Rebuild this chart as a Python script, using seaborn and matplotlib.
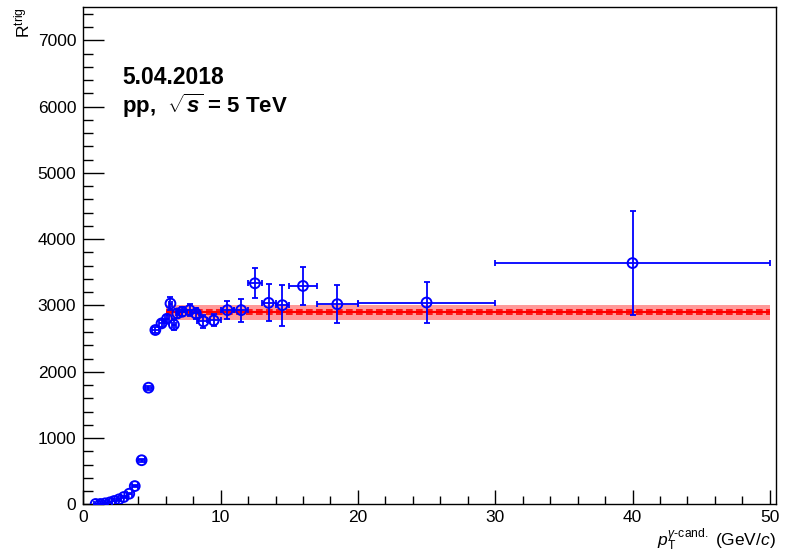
import numpy as np
import matplotlib
matplotlib.use('Agg')
import matplotlib.pyplot as plt
import seaborn as sns
from matplotlib.ticker import MultipleLocator

pt = [0.9, 1.25, 1.6, 1.95, 2.25, 2.6, 2.95, 3.35, 3.75, 4.25, 4.75,
      5.25, 5.7, 6.1, 6.35, 6.6, 6.85, 7.2, 7.75, 8.2, 8.75, 9.5,
      10.5, 11.5, 12.5, 13.5, 14.5, 16.0, 18.5, 25.0, 40.0]
r_trig = [5, 5, 15, 30, 50, 75, 110, 160, 275, 665, 1760,
          2630, 2730, 2800, 3030, 2710, 2880, 2905, 2930, 2880, 2760, 2775,
          2930, 2930, 3335, 3040, 3005, 3295, 3020, 3045, 3640]
pt_err = [0.15, 0.15, 0.15, 0.15, 0.15, 0.15, 0.2, 0.2, 0.2, 0.25, 0.25,
          0.25, 0.2, 0.12, 0.12, 0.12, 0.12, 0.25, 0.5, 0.25, 0.5, 0.5,
          0.5, 0.5, 0.5, 0.5, 0.5, 1.0, 1.5, 5.0, 10.0]
r_err = [2, 2, 3, 5, 6, 8, 10, 12, 15, 20, 30,
         40, 50, 60, 100, 80, 70, 70, 90, 80, 100, 90,
         140, 175, 225, 277, 310, 290, 290, 310, 790]

# Constant fit and its uncertainty band
fit_range = [6.0, 50.0]
fit_value = 2900
fit_err = 112
fit_err_inner = 35

sns.set_style('ticks')
plt.rcParams['font.family'] = ['Liberation Sans', 'DejaVu Sans']
plt.rcParams['mathtext.fontset'] = 'custom'
plt.rcParams['mathtext.rm'] = 'Liberation Sans'
plt.rcParams['mathtext.it'] = 'Liberation Sans:italic'
plt.rcParams['mathtext.bf'] = 'Liberation Sans:bold'
plt.rcParams['mathtext.bfit'] = 'Liberation Sans:italic:bold'
for key in ['text.color', 'axes.labelcolor', 'xtick.color', 'ytick.color',
            'xtick.labelcolor', 'ytick.labelcolor']:
    plt.rcParams[key] = 'black'

fig = plt.figure(figsize=(7.9, 5.52), dpi=100)
ax = fig.add_axes([0.1054, 0.0864, 0.8769, 0.9004])

# fit band
ax.fill_between(fit_range, fit_value - fit_err, fit_value + fit_err,
                color='#ff9a9a', lw=0, zorder=1)
ax.hlines(fit_value, *fit_range, color='#ff0000', lw=1.5, zorder=2)
ax.hlines([fit_value - fit_err_inner, fit_value + fit_err_inner], *fit_range,
          color='#ff0000', lw=1.2, linestyles=(0, (4, 2)), zorder=2)

# data
ax.errorbar(pt, r_trig, xerr=pt_err, yerr=r_err, fmt='none', ecolor='#0000ff',
            elinewidth=1.3, capsize=2.2, capthick=1.3, zorder=3)
sns.scatterplot(x=pt, y=r_trig, ax=ax, marker='o', s=50, facecolor='none',
                edgecolor='#0000ff', linewidth=1.4, zorder=4)

ax.set_xlim(0, 50.45)
ax.set_ylim(0, 7500)
ax.xaxis.set_major_locator(MultipleLocator(10))
ax.xaxis.set_minor_locator(MultipleLocator(2))
ax.yaxis.set_major_locator(MultipleLocator(1000))
ax.yaxis.set_minor_locator(MultipleLocator(200))
ax.tick_params(axis='both', which='both', direction='in', top=False, right=False,
               labelsize=12.5, width=1, colors='black')
ax.tick_params(axis='y', which='major', length=15, pad=5)
ax.tick_params(axis='y', which='minor', length=7.5)
ax.tick_params(axis='x', which='major', length=10, pad=4)
ax.tick_params(axis='x', which='minor', length=5.5)
for side in ax.spines.values():
    side.set_linewidth(1)
    side.set_color('black')

ax.text(0.056, 0.846, '5.04.2018', transform=ax.transAxes, fontsize=16.5,
        fontweight='bold', va='baseline')
ax.text(0.056, 0.787, r'pp,  $\sqrt{\mathbfit{s}}$ = 5 TeV', transform=ax.transAxes,
        fontsize=16, fontweight='bold', va='baseline')

fig.text(0.028, 0.987, r'R$^{\mathrm{trig}}$', rotation=90, ha='center', va='top',
         fontsize=12.5)
fig.text(0.982, 0.011, r'$p_{\mathrm{T}}^{\gamma\mathrm{\text{-}cand.}}$ (GeV/$c$)',
         ha='right', va='baseline', fontsize=12.5)

fig.savefig('out.png', dpi=100)
